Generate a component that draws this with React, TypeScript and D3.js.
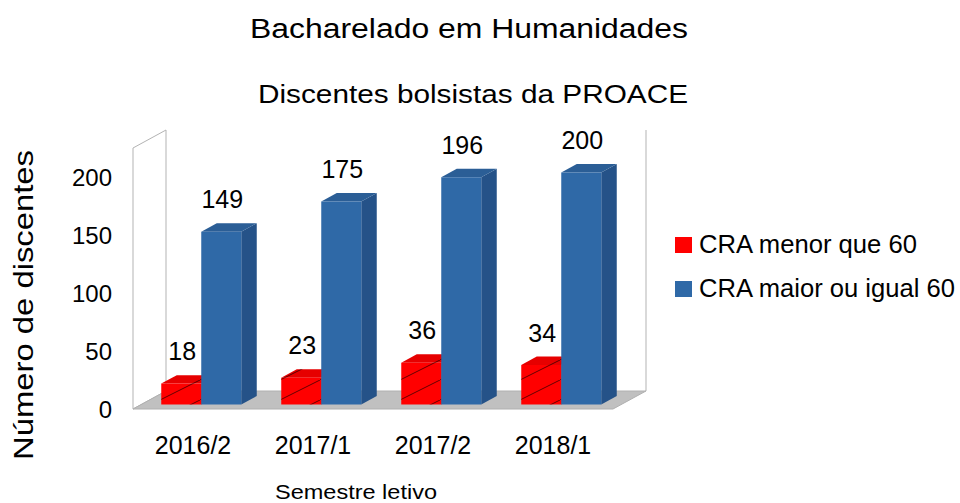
import React from 'react'
import * as d3 from 'd3'

const categories = ['2016/2', '2017/1', '2017/2', '2018/1']
const seriesNames = ['CRA menor que 60', 'CRA maior ou igual 60']
const menor = [18, 23, 36, 34]
const maior = [149, 175, 196, 200]
const yTicks = [0, 50, 100, 150, 200]

const W = 960
const H = 503
const font = '"Liberation Sans", Arial, sans-serif'

// 3d geometry
const DX = 33
const DY = 18
const D0 = 0.25
const D1 = 0.72

const faceColors = [
  { front: '#ff0000', top: '#e60000', side: '#c00000' },
  { front: '#2f69a7', top: '#2b5e96', side: '#255288' },
]

function App() {
  const x0 = d3.scaleBand().domain(categories).range([133, 613])
  const x1 = d3
    .scaleBand()
    .domain(seriesNames)
    .range([0, x0.bandwidth()])
    .paddingOuter(0.5)
  const y = d3.scaleLinear().domain([0, 200]).range([409, 177])

  const wallTop = y(225)
  const y0 = y(0)

  const bar = (cat, si, value) => {
    const c = faceColors[si]
    const xf = x0(cat) + x1(seriesNames[si]) + DX * D0
    const w = x1.bandwidth()
    const yb = y0 - DY * D0
    const yt = y(value) - DY * D0
    const ddx = DX * (D1 - D0)
    const ddy = DY * (D1 - D0)
    const front = `M${xf},${yb}L${xf + w},${yb}L${xf + w},${yt}L${xf},${yt}Z`
    const top = `M${xf},${yt}L${xf + w},${yt}L${xf + w + ddx},${yt - ddy}L${xf + ddx},${yt - ddy}Z`
    const side = `M${xf + w},${yb}L${xf + w + ddx},${yb - ddy}L${xf + w + ddx},${yt - ddy}L${xf + w},${yt}Z`
    return (
      <g key={cat + si}>
        <path d={side} fill={c.side} />
        <path d={top} fill={c.top} />
        <path d={front} fill={c.front} />
        {si === 0 && <path d={top} fill="url(#hatch)" />}
        {si === 0 && <path d={front} fill="url(#hatch)" />}
        <text
          x={xf + w / 2 + 1}
          y={yt - ddy - 15}
          textAnchor="middle"
          fontSize={25}
        >
          {value}
        </text>
      </g>
    )
  }

  return (
    <svg
      width={W}
      height={H}
      style={{ position: 'absolute', left: 0, top: 0, background: '#fff' }}
      fontFamily={font}
    >
      <defs>
        <pattern id="hatch" patternUnits="userSpaceOnUse" width={40} height={20}>
          <line x1={0} y1={20} x2={40} y2={0} stroke="#000" strokeWidth={1} strokeOpacity={0.6} />
        </pattern>
      </defs>
      <rect width={W} height={H} fill="#fff" />

      <text x={469} y={38} textAnchor="middle" fontSize={27} textLength={438} lengthAdjust="spacingAndGlyphs">
        Bacharelado em Humanidades
      </text>
      <text x={473} y={103} textAnchor="middle" fontSize={26} textLength={430} lengthAdjust="spacingAndGlyphs">
        Discentes bolsistas da PROACE
      </text>

      {/* walls and floor */}
      <path
        d={`M133,${y0}L133,${wallTop}L${133 + DX},${wallTop - DY}L${133 + DX},${y0 - DY}Z`}
        fill="#fff"
        stroke="#b3b3b3"
      />
      <line x1={613 + DX} x2={613 + DX} y1={wallTop - DY} y2={y0 - DY} stroke="#b3b3b3" />
      <path
        d={`M133,${y0}L613,${y0}L${613 + DX},${y0 - DY}L${133 + DX},${y0 - DY}Z`}
        fill="#c0c0c0"
        stroke="#b0b0b0"
      />

      {categories.map((cat, i) => (
        <g key={cat}>
          {bar(cat, 0, menor[i])}
          {bar(cat, 1, maior[i])}
        </g>
      ))}

      {/* y axis labels */}
      {yTicks.map((t) => (
        <text key={t} x={112} y={y(t) + 9} textAnchor="end" fontSize={24}>
          {t}
        </text>
      ))}
      <text
        x={33}
        y={305}
        transform="rotate(-90,33,305)"
        textAnchor="middle"
        fontSize={28}
        textLength={310}
        lengthAdjust="spacingAndGlyphs"
      >
        Número de discentes
      </text>

      {/* x axis labels */}
      {categories.map((cat) => (
        <text key={cat} x={x0(cat) + x0.bandwidth() / 2} y={454} textAnchor="middle" fontSize={25}>
          {cat}
        </text>
      ))}
      <text x={356} y={499} textAnchor="middle" fontSize={21} textLength={162} lengthAdjust="spacingAndGlyphs">
        Semestre letivo
      </text>

      {/* legend */}
      {seriesNames.map((s, i) => (
        <g key={s} transform={`translate(675,${237 + i * 44})`}>
          <rect width={17} height={16} fill={faceColors[i].front} />
          <text x={24} y={16} fontSize={25} textLength={i === 0 ? 218 : 256} lengthAdjust="spacingAndGlyphs">
            {s}
          </text>
        </g>
      ))}
    </svg>
  )
}

export default App
